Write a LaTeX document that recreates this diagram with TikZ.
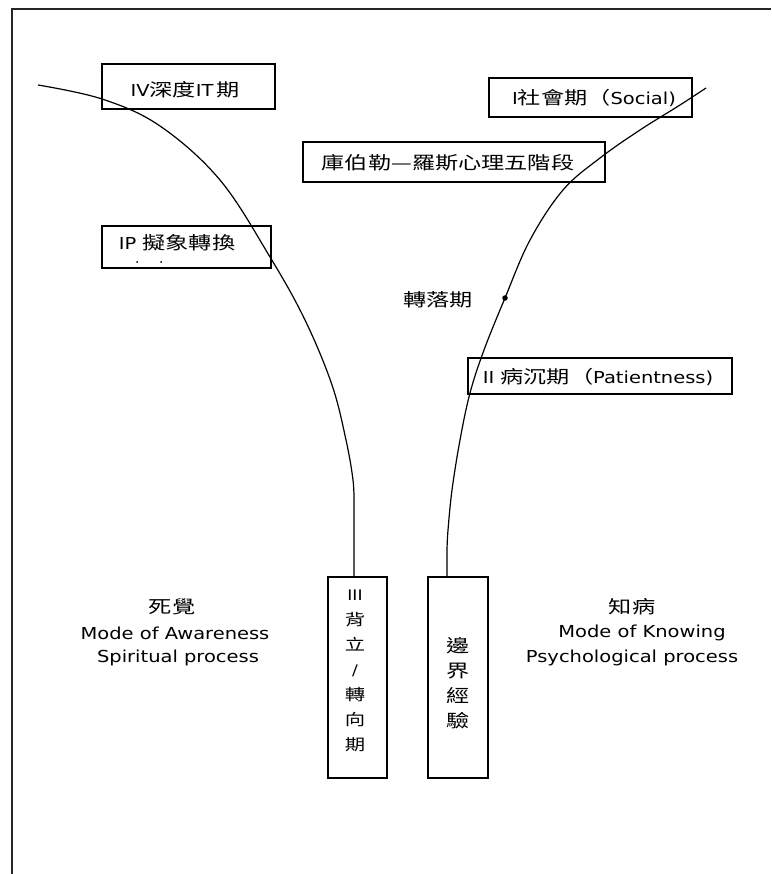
\documentclass[tikz,border=0pt]{standalone}
\usepackage{fontspec}
\setmainfont[FakeStretch=1.18]{DejaVu Sans}
\newfontfamily\cjk[FakeStretch=1.3,Scale=1.08]{Noto Sans CJK TC}
\usetikzlibrary{calc}
\newcommand\zhtxt[1]{{\cjk #1}}
\tikzset{
  lbl/.style={inner sep=0pt, font=\fontsize{16.5}{20}\selectfont},
  stagebox/.style={draw, line width=1.3pt, inner sep=0pt},
  curve/.style={line width=1.2pt},
}
\begin{document}
\begin{tikzpicture}[x=1pt,y=-1pt]
\useasboundingbox (0,0) rectangle (771,874);
% frame
\draw[line width=1.7pt, black!85] (12,874) -- (12,9) -- (771,9);

% boxes
\node[stagebox, minimum width=173pt, minimum height=45pt] (b4) at (188.5,86.5) {};
\node[stagebox, minimum width=203pt, minimum height=39pt] (b1) at (590.5,97.5) {};
\node[stagebox, minimum width=302pt, minimum height=40pt] (bk) at (454,162) {};
\node[stagebox, minimum width=169pt, minimum height=42pt] (bip) at (186.5,247) {};
\node[stagebox, minimum width=264pt, minimum height=36pt] (b2) at (600,376) {};
\node[stagebox, minimum width=59pt, minimum height=201pt] (b3) at (357.5,677.5) {};
\node[stagebox, minimum width=60pt, minimum height=201pt] (bb) at (458,677.5) {};

% box texts
\node[lbl] (t4) at (185,90) {IV\zhtxt{深度}IT\,\zhtxt{期}};
\node[lbl] (t1) at (594,98) {I\zhtxt{社會期（}Social)};
\node[lbl] (tk) at (448,163) {\zhtxt{庫伯勒—羅斯心理五階段}};
\node[lbl] (tip) at (177,243) {IP \zhtxt{擬象轉換}};
\node[lbl] (t2) at (598,377) {II \zhtxt{病沉期（}Patientness)};
\node[lbl, align=center, font=\fontsize{14.5}{25}\selectfont] (t3) at (355,671)
  {III\\\zhtxt{背}\\\zhtxt{立}\\/\\\zhtxt{轉}\\\zhtxt{向}\\\zhtxt{期}};
\node[lbl, align=center, font=\fontsize{16.5}{25}\selectfont] (tb) at (458,683)
  {\zhtxt{邊}\\\zhtxt{界}\\\zhtxt{經}\\\zhtxt{驗}};

% small remnant dots in IP box
\fill (137,262) circle (1pt);
\fill (161,262) circle (1pt);

% side labels
\node[lbl] (sj) at (172,607) {\zhtxt{死覺}};
\node[lbl] (ma) at (175,633) {Mode of Awareness};
\node[lbl] (sp) at (178,658) {Spiritual process};
\node[lbl] (zb) at (632,607) {\zhtxt{知病}};
\node[lbl] (mk) at (642,633) {Mode of Knowing};
\node[lbl] (pp) at (632,658) {Psychological process};

% transition label and dot
\node[lbl] (zl) at (438,300) {\zhtxt{轉落期}};
\node[circle, fill, inner sep=0pt, minimum size=5.5pt] (dot) at (505,298) {};

% curves
\coordinate (lend) at ($(b3.north)+(-3.5,0)$);
\coordinate (rend) at ($(bb.north)+(-11,0)$);
\draw[curve] plot[smooth, tension=0.6] coordinates {(38,85) (102,99) (160,126) (220,180) (270,257) (305,320) (332,385) (346,440) (353,480) (354,505)} -- (lend);
\draw[curve] plot[smooth, tension=0.6] coordinates {(706,88) (680,105) (640,130) (600,158) (563,190) (530,240) (505,298) (484,350) (470,393) (460,440) (452,490) (448,530) (447,550)} -- (rend);
\end{tikzpicture}
\end{document}
